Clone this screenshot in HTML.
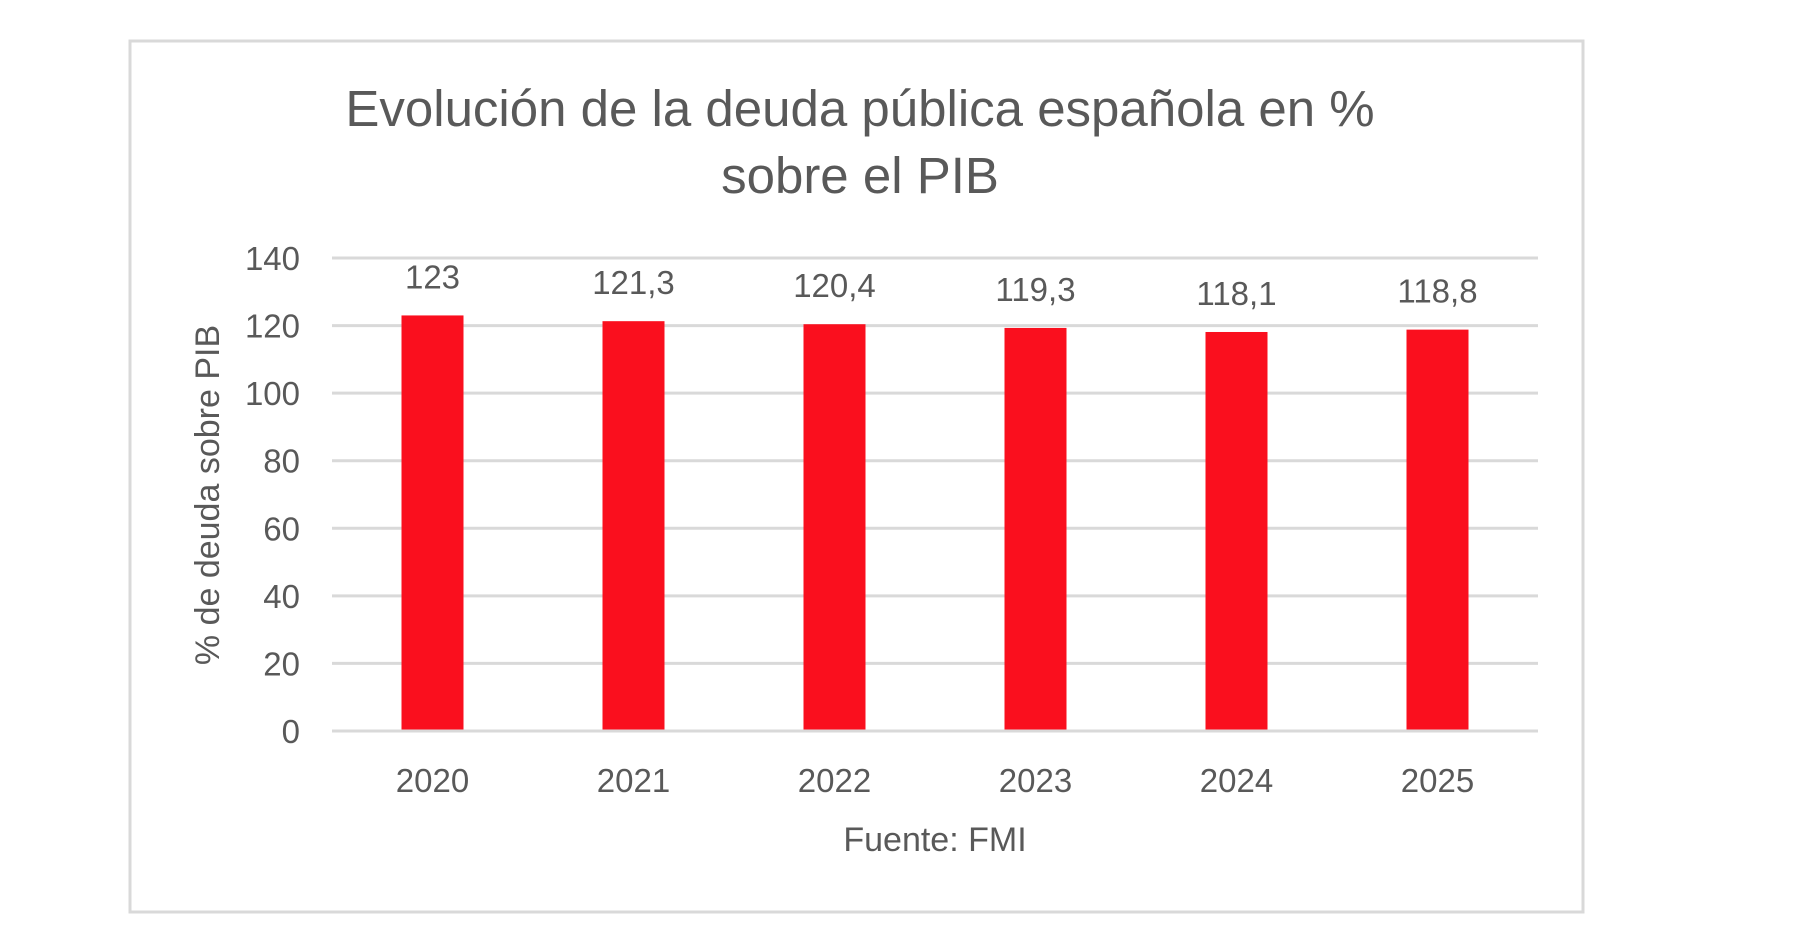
<!DOCTYPE html>
<html><head><meta charset="utf-8"><style>
body{margin:0;background:#fff;width:1806px;height:952px;overflow:hidden}
svg{position:absolute;left:0;top:0}
text{font-family:"Liberation Sans",sans-serif;fill:#595959}
</style></head><body>
<svg id="chart" width="1806" height="952">
<rect x="130" y="41" width="1453" height="871" fill="#fff" stroke="#d9d9d9" stroke-width="3"/>
<text x="860" y="126" font-size="51" text-anchor="middle">Evolución de la deuda pública española en %</text>
<text x="860" y="193" font-size="51" text-anchor="middle">sobre el PIB</text>
<text transform="translate(219,495) rotate(-90)" font-size="34" text-anchor="middle">% de deuda sobre PIB</text>
<text x="935" y="851" font-size="34" text-anchor="middle">Fuente: FMI</text>
<g id="grid"></g><g id="bars"></g>
</svg>
<script>
const categories=["2020","2021","2022","2023","2024","2025"];
const values=[123,121.3,120.4,119.3,118.1,118.8];
const valueLabels=["123","121,3","120,4","119,3","118,1","118,8"];
const yTicks=[0,20,40,60,80,100,120,140];
const NS="http://www.w3.org/2000/svg";
const x0=332,x1=1538,yBase=731,yTop=258,yMax=140;
const y=v=>yBase-(v/yMax)*(yBase-yTop);
const bw=(x1-x0)/categories.length;
const xc=i=>x0+bw*(i+0.5);
function mk(tag,attrs,parent,txt){const e=document.createElementNS(NS,tag);for(const k in attrs)e.setAttribute(k,attrs[k]);if(txt!==undefined)e.textContent=txt;parent.appendChild(e);return e;}
const grid=document.getElementById('grid'),bars=document.getElementById('bars');
yTicks.forEach(t=>{
 const l=mk('line',{x1:x0,x2:x1,y1:y(t),y2:y(t),stroke:'#d9d9d9','stroke-width':3},grid);
 
 
 const tx=mk('text',{x:300,y:y(t)+12,'font-size':33,'text-anchor':'end'},grid,String(t));
 
 
});
categories.forEach((c,i)=>{
 const w=62;
 const r=mk('rect',{x:xc(i)-w/2,y:y(values[i]),width:w,height:yBase-1.5-y(values[i]),fill:'#fa0f1e'},bars);
 
 
 const lb=mk('text',{x:xc(i),y:y(values[i])-27,'font-size':33,'text-anchor':'middle'},bars,valueLabels[i]);
 
 
 const xl=mk('text',{x:xc(i),y:792,'font-size':33,'text-anchor':'middle'},bars,c);
 
 
});
</script>
</body></html>
